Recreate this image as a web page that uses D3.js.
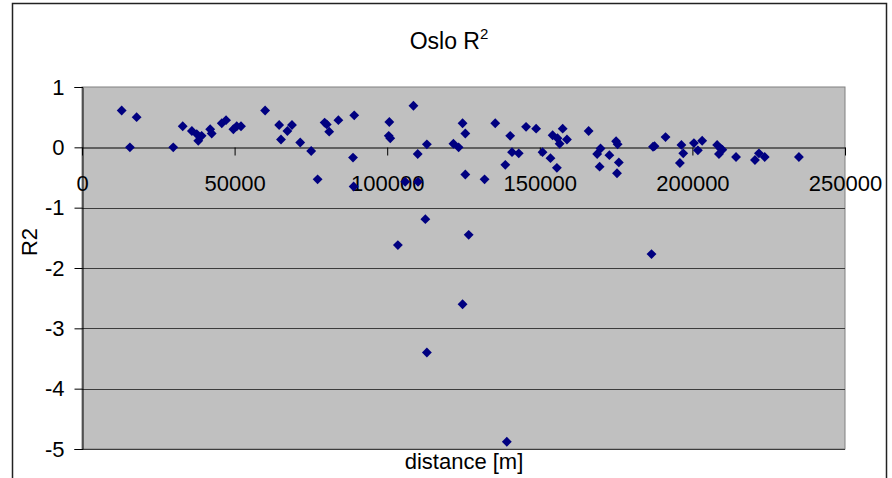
<!DOCTYPE html>
<html>
<head>
<meta charset="utf-8">
<script src="https://cdn.jsdelivr.net/npm/d3@7"></script>
<style>
  html, body { margin: 0; padding: 0; background: #fff; }
  svg { display: block; font-family: "Liberation Sans", Arial, sans-serif; }
</style>
</head>
<body>
<svg id="chart" width="892" height="478"></svg>
<script>
// Station pair distance (m) and the corresponding R2 value
const distance = [
  13000, 15700, 17900, 29900, 33000, 36000, 37600, 38100, 39200, 42000,
  42500, 45800, 47200, 49600, 50700, 52100, 60000, 64600, 65200, 67300,
  68800, 71500, 75100, 77200, 79500, 80200, 81000, 84000, 89200, 88800,
  89000, 100700, 100500, 101000, 103500, 105900, 108600, 110000, 110100, 112500,
  113000, 113000, 121700, 123400, 124700, 125600, 125600, 124700, 126700, 131900,
  135400, 138700, 139200, 140300, 140900, 143100, 145500, 148800, 150900, 153500,
  154200, 155600, 155800, 156500, 157500, 158900, 166000, 168800, 169900, 169600,
  172800, 175000, 175500, 175900, 175300, 186600, 187100, 187600, 191200, 195900,
  196400, 197000, 200500, 201800, 203200, 208100, 208700, 209200, 209800, 214300,
  220500, 221800, 223700, 234900
];
const r2 = [
  0.61, 0.00, 0.50, 0.00, 0.35, 0.27, 0.22, 0.11, 0.19, 0.30,
  0.23, 0.40, 0.45, 0.30, 0.35, 0.35, 0.61, 0.37, 0.13, 0.27,
  0.37, 0.08, -0.06, -0.53, 0.41, 0.38, 0.26, 0.45, 0.53, -0.17,
  -0.65, 0.42, 0.19, 0.15, -1.62, -0.57, 0.69, -0.11, -0.57, -1.19,
  0.05, -3.40, 0.06, 0.00, 0.40, 0.23, -0.45, -2.60, -1.45, -0.53,
  0.40, -0.29, -4.88, 0.19, -0.08, -0.10, 0.34, 0.31, -0.08, -0.18,
  0.20, -0.34, 0.15, 0.06, 0.31, 0.13, 0.27, -0.11, -0.02, -0.32,
  -0.13, 0.10, 0.05, -0.25, -0.43, -1.77, 0.01, 0.02, 0.17, -0.26,
  0.04, -0.10, 0.07, -0.05, 0.11, 0.04, -0.11, -0.02, -0.04, -0.16,
  -0.21, -0.10, -0.16, -0.16
];
const xTicks = [0, 50000, 100000, 150000, 200000, 250000];
const yTicks = [1, 0, -1, -2, -3, -4, -5];

const svg = d3.select("#chart");
const plot = { left: 82, right: 845, top: 87, bottom: 449 };

const x = d3.scaleLinear().domain([0, 250000]).range([plot.left, plot.right]);
const y = d3.scaleLinear().domain([-5, 1]).range([plot.bottom, plot.top]);

// Chart area frame
svg.append("rect")
  .attr("x", 12.5).attr("y", 3.5)
  .attr("width", 874).attr("height", 490)
  .attr("fill", "#fff").attr("stroke", "#222").attr("stroke-width", 1.5);

// Plot area
svg.append("rect")
  .attr("x", plot.left).attr("y", plot.top)
  .attr("width", plot.right - plot.left).attr("height", plot.bottom - plot.top)
  .attr("fill", "#c0c0c0").attr("stroke", "#808080").attr("stroke-width", 1);

// Horizontal gridlines
svg.append("g")
  .selectAll("line")
  .data(yTicks.filter(v => v < 0))
  .join("line")
  .attr("x1", plot.left).attr("x2", plot.right)
  .attr("y1", d => Math.round(y(d)) + 0.5).attr("y2", d => Math.round(y(d)) + 0.5)
  .attr("stroke", "#3c3c3c").attr("stroke-width", 1);

// Y axis
const yAxis = svg.append("g")
  .attr("transform", `translate(${plot.left + 0.5},0)`)
  .call(d3.axisLeft(y).tickValues(yTicks).tickFormat(d3.format("d")).tickSize(8).tickPadding(10));
yAxis.select(".domain").attr("stroke", "#000");
yAxis.selectAll(".tick line").attr("stroke", "#000");
yAxis.selectAll(".tick text")
  .attr("font-size", 22).attr("font-family", "Liberation Sans, Arial, sans-serif")
  .attr("fill", "#000").text(d => d < 0 ? "-" + Math.abs(d) : d);

// X axis crossing at R2 = 0
const xAxis = svg.append("g")
  .attr("transform", `translate(0,${Math.round(y(0)) + 0.5})`)
  .call(d3.axisBottom(x).tickValues(xTicks).tickFormat(d3.format("d")).tickSizeInner(8).tickSizeOuter(0));
xAxis.select(".domain").attr("stroke", "#000");
xAxis.selectAll(".tick line").attr("stroke", "#000");
xAxis.selectAll(".tick text")
  .attr("font-size", 22).attr("font-family", "Liberation Sans, Arial, sans-serif")
  .attr("fill", "#000").attr("y", 43).attr("dy", 0);

// Points
const diamond = d3.symbol().type(d3.symbolDiamond2).size(62);
svg.append("g")
  .selectAll("path")
  .data(distance.map((d, i) => [d, r2[i]]))
  .join("path")
  .attr("transform", d => `translate(${x(d[0])},${y(d[1])})`)
  .attr("d", diamond)
  .attr("fill", "#000080");

// Title
const title = svg.append("text")
  .attr("x", 449).attr("y", 49)
  .attr("text-anchor", "middle")
  .attr("font-size", 23).attr("fill", "#000");
title.append("tspan").text("Oslo R");
title.append("tspan").attr("font-size", 15).attr("dy", -10).text("2");

// Axis titles
svg.append("text")
  .attr("transform", "translate(37,242) rotate(-90)")
  .attr("text-anchor", "middle")
  .attr("font-size", 22).attr("fill", "#000")
  .text("R2");

svg.append("text")
  .attr("x", 464).attr("y", 469)
  .attr("text-anchor", "middle")
  .attr("font-size", 22).attr("fill", "#000")
  .text("distance [m]");
</script>
</body>
</html>
